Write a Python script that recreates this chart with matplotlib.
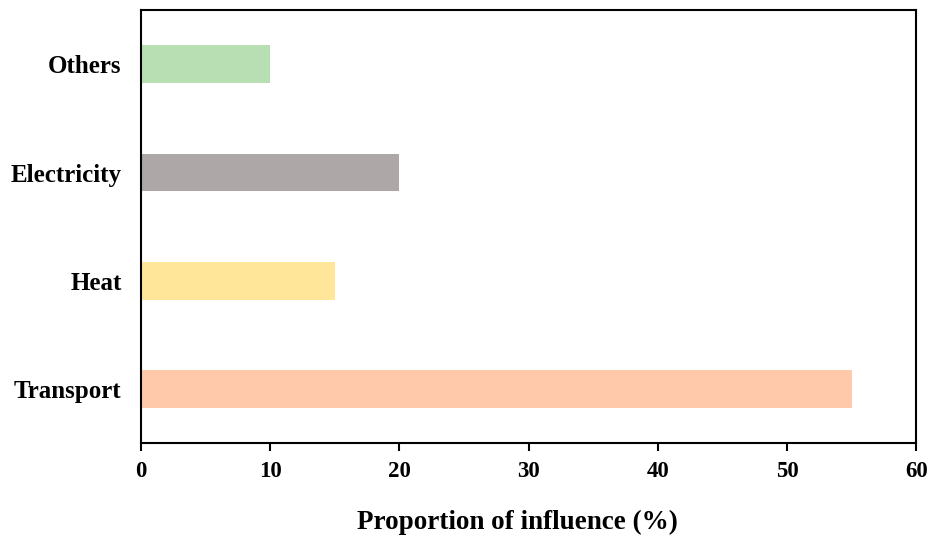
import matplotlib

matplotlib.use("Agg")
import matplotlib.pyplot as plt

categories = ["Transport", "Heat", "Electricity", "Others"]
values = [55, 15, 20, 10]
colors = ["#FFC9AA", "#FFE699", "#AEA7A7", "#B8DEB4"]
xticks = [0, 10, 20, 30, 40, 50, 60]

plt.rcParams["font.family"] = ["Liberation Serif", "DejaVu Serif"]
plt.rcParams["font.weight"] = "bold"

fig = plt.figure(figsize=(9.34, 5.37), dpi=100)
ax = fig.add_axes([0.151, 0.175, 0.830, 0.806])

ax.barh(range(len(categories)), values, height=0.35, color=colors)

ax.set_xlim(0, 60)
ax.set_ylim(-0.5, 3.5)
ax.set_xticks(xticks)
ax.set_xticklabels([str(t) for t in xticks], fontsize=16.5, fontweight="bold")
ax.set_yticks(range(len(categories)))
ax.set_yticklabels(categories, fontsize=18, fontweight="bold")
ax.tick_params(axis="x", direction="out", length=6, width=1.5, pad=7)
ax.tick_params(axis="y", length=0, pad=14)
for spine in ax.spines.values():
    spine.set_linewidth(1.5)
ax.set_xlabel("Proportion of influence (%)", fontsize=19.5, fontweight="bold")
ax.xaxis.set_label_coords(0.485, -0.155)

fig.savefig("out.png", dpi=100)
